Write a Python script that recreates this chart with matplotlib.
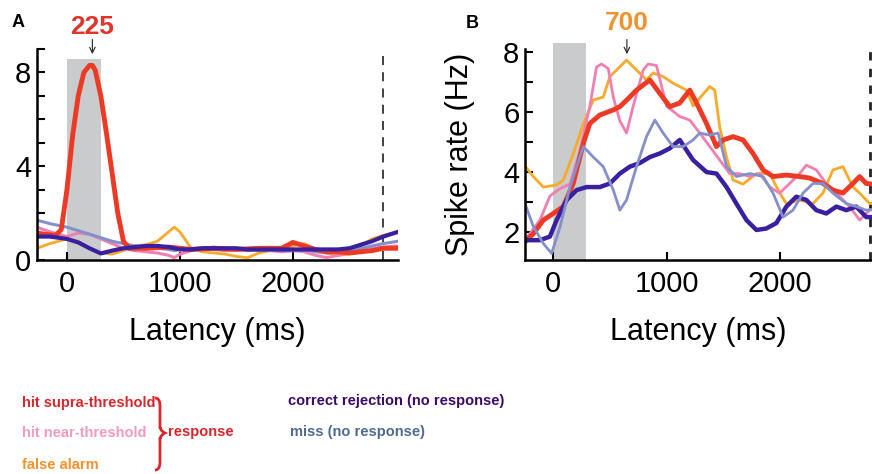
import matplotlib.pyplot as plt
from matplotlib.path import Path
from matplotlib.patches import PathPatch
import numpy as np

plt.rcParams['font.family'] = ['Liberation Sans', 'DejaVu Sans']

# ---- panel A: trial-averaged spike rate, supra-threshold peak ----
a_t_hit = [-265, -200, -100, -50, 0, 50, 100, 150, 200, 225, 250, 300, 350, 400, 450, 500, 550,
           700, 900, 1100, 1300, 1500, 1700, 1900, 2000, 2100, 2200, 2300, 2400, 2500, 2600, 2700, 2800, 2930]
a_hit = [1.15, 1.1, 1.05, 1.3, 3.0, 5.3, 7.0, 8.0, 8.3, 8.3, 8.1, 7.0, 5.4, 3.7, 2.0, 0.8, 0.5,
         0.5, 0.55, 0.45, 0.5, 0.45, 0.5, 0.5, 0.75, 0.6, 0.45, 0.35, 0.35, 0.3, 0.35, 0.4, 0.5, 0.5]

a_t = [-265, -150, 0, 100, 200, 300, 400, 500, 600, 700, 800, 900, 950, 1000, 1100, 1200, 1300, 1400,
       1500, 1600, 1700, 1800, 1900, 2000, 2100, 2200, 2300, 2400, 2500, 2600, 2700, 2800, 2930]
a_fa = [0.5, 0.7, 0.9, 0.8, 0.5, 0.3, 0.25, 0.4, 0.6, 0.65, 0.8, 1.2, 1.4, 1.2, 0.5, 0.35, 0.3, 0.25,
        0.15, 0.1, 0.3, 0.4, 0.45, 0.6, 0.7, 0.45, 0.3, 0.2, 0.25, 0.6, 0.9, 1.05, 1.2]
a_near = [1.4, 1.2, 1.0, 1.15, 1.1, 0.9, 0.7, 0.5, 0.4, 0.35, 0.3, 0.2, 0.1, 0.25, 0.4, 0.5, 0.45, 0.4,
          0.45, 0.4, 0.45, 0.4, 0.35, 0.4, 0.35, 0.2, 0.1, 0.2, 0.3, 0.4, 0.5, 0.55, 0.6]
a_miss = [1.7, 1.55, 1.4, 1.25, 1.1, 0.95, 0.8, 0.7, 0.6, 0.55, 0.5, 0.45, 0.4, 0.45, 0.5, 0.5, 0.55, 0.5,
          0.5, 0.45, 0.4, 0.45, 0.4, 0.4, 0.45, 0.35, 0.3, 0.35, 0.4, 0.5, 0.6, 0.7, 0.8]
a_cr = [1.0, 1.0, 0.9, 0.75, 0.5, 0.28, 0.4, 0.5, 0.55, 0.6, 0.6, 0.55, 0.5, 0.45, 0.45, 0.5, 0.5, 0.5,
        0.5, 0.45, 0.45, 0.45, 0.45, 0.45, 0.45, 0.45, 0.45, 0.45, 0.5, 0.65, 0.8, 1.0, 1.2]

# ---- panel B: false-alarm peak ----
b_t_hit = [-250, -176, -88, 0, 88, 176, 265, 323, 411, 530, 588, 676, 735, 853, 941, 1029, 1117, 1206,
           1265, 1353, 1441, 1500, 1588, 1676, 1764, 1853, 1941, 2059, 2176, 2264, 2382, 2470, 2558, 2647,
           2706, 2764, 2815]
b_hit = [1.68, 1.95, 2.4, 2.62, 2.85, 3.62, 4.95, 5.62, 5.9, 6.07, 6.18, 6.5, 6.73, 7.07, 6.62, 6.18, 6.3,
         6.73, 6.3, 5.62, 4.85, 5.07, 5.18, 5.07, 4.62, 4.07, 3.85, 3.9, 3.85, 3.8, 3.62, 3.4, 3.3, 3.62,
         3.85, 3.62, 3.6]

b_t_fa = [-250, -176, -88, 29, 88, 176, 265, 353, 441, 500, 559, 647, 735, 823, 882, 970, 1058, 1176,
          1235, 1324, 1382, 1426, 1470, 1530, 1588, 1676, 1794, 1912, 2000, 2059, 2176, 2294, 2382, 2470,
          2558, 2647, 2706, 2794, 2815]
b_fa = [4.2, 3.85, 3.5, 3.57, 3.73, 4.6, 5.6, 6.4, 6.5, 7.18, 7.4, 7.73, 7.4, 7.07, 7.3, 7.18, 6.96, 6.73,
        6.2, 6.6, 6.85, 6.73, 5.5, 4.5, 3.73, 3.6, 3.95, 3.95, 3.3, 2.95, 3.07, 2.95, 3.3, 4.07,
        4.18, 3.5, 3.3, 2.95, 2.95]

b_t_near = [-250, -118, -30, 60, 147, 235, 323, 382, 426, 485, 530, 588, 647, 706, 794, 838, 911, 1000,
            1117, 1206, 1294, 1382, 1470, 1558, 1647, 1735, 1823, 1912, 2000, 2088, 2176, 2235, 2323,
            2411, 2500, 2617, 2706, 2794, 2815]
b_near = [1.73, 2.4, 3.2, 3.45, 3.6, 4.7, 6.2, 7.5, 7.6, 7.45, 6.5, 5.7, 5.3, 6.2, 7.4, 7.6, 7.55, 6.2,
          5.85, 5.73, 5.3, 4.85, 4.4, 3.95, 3.95, 3.85, 3.95, 3.5, 3.3, 3.62, 3.95, 4.23, 4.07,
          3.62, 3.3, 2.85, 2.4, 2.73, 2.75]

b_t_miss = [-250, -176, -88, -15, 60, 147, 265, 353, 441, 530, 588, 647, 735, 823, 897, 970, 1058, 1147,
            1235, 1294, 1382, 1456, 1530, 1617, 1735, 1853, 1941, 2029, 2117, 2206, 2294, 2382, 2470,
            2588, 2676, 2764, 2815]
b_miss = [2.95, 2.18, 1.62, 1.29, 2.18, 3.5, 4.85, 4.5, 4.18, 3.4, 2.73, 3.07, 4.18, 5.18, 5.73, 5.3, 4.85,
          4.85, 5.07, 5.3, 5.23, 5.3, 4.18, 3.85, 3.95, 3.85, 3.3, 2.5, 2.73, 3.3, 3.62, 3.62, 3.3,
          2.95, 2.85, 2.73, 2.75]

b_t_cr = [-250, -118, -30, 29, 118, 206, 294, 411, 500, 588, 676, 764, 853, 941, 1029, 1117, 1176, 1235,
          1294, 1353, 1441, 1530, 1617, 1706, 1794, 1882, 1970, 2059, 2147, 2235, 2323, 2411, 2500,
          2588, 2676, 2764, 2815]
b_cr = [1.73, 1.73, 1.85, 2.4, 3.07, 3.4, 3.5, 3.5, 3.62, 3.95, 4.18, 4.3, 4.5, 4.62, 4.79, 5.07, 4.73, 4.4,
        4.2, 4.0, 3.95, 3.5, 2.95, 2.4, 2.07, 2.12, 2.3, 2.85, 3.18, 3.07, 2.73, 2.62, 2.85,
        2.73, 2.85, 2.5, 2.5]

peak_a, peak_a_label = 225, '225'
peak_b, peak_b_label = 650, '700'
stim_end = 300
trial_end = 2800

c_hit = '#ec3a25'
c_near = '#f27fb2'
c_fa = '#f8aa2a'
c_cr = '#3a20a0'
c_miss = '#8490cc'
shade = '#c9cbcc'

W, H = 872, 474
fig = plt.figure(figsize=(W / 100, H / 100), dpi=100)


def px_axes(l, t, r, b):
    return fig.add_axes([l / W, 1 - b / H, (r - l) / W, (b - t) / H])


def style(ax):
    for s in ['top', 'right']:
        ax.spines[s].set_visible(False)
    for s in ['left', 'bottom']:
        ax.spines[s].set_linewidth(1.8)
    ax.tick_params(which='both', direction='in', width=1.5, labelsize=21, pad=4)
    ax.tick_params(which='major', length=6)
    ax.tick_params(which='minor', length=6)
    ax.tick_params(axis='x', pad=7)
    ax.set_xticks([0, 1000, 2000])
    ax.set_xlabel('Latency (ms)', fontsize=22, labelpad=14)


# panel A
axA = px_axes(37, 49, 398, 260)
axA.axvspan(0, stim_end, ymax=0.953, color=shade, lw=0, zorder=0)
axA.axvline(trial_end, color='#333333', ls=(0, (5, 4)), lw=1.3)
axA.plot(a_t, a_fa, color=c_fa, lw=2)
axA.plot(a_t, a_near, color=c_near, lw=2.2)
axA.plot(a_t, a_miss, color=c_miss, lw=2.2)
axA.plot(a_t_hit, a_hit, color=c_hit, lw=3.5)
axA.plot(a_t, a_cr, color=c_cr, lw=3)
axA.set_xlim(-265, 2930)
axA.set_ylim(0, 9)
axA.set_yticks([0, 4, 8])
axA.set_yticks(range(0, 10), minor=True)
style(axA)
tr = axA.get_xaxis_transform()
axA.text(peak_a, 1.104, peak_a_label, transform=tr, ha='center', va='center',
         color='#e0352b', fontsize=19, fontweight='bold')
axA.annotate('', xy=(peak_a, 0.976), xytext=(peak_a, 1.045), xycoords=tr, textcoords=tr,
             arrowprops=dict(arrowstyle='->', lw=0.8, color='#222222', shrinkA=0, shrinkB=0))

# panel B
axB = px_axes(525, 49, 872, 260)
axB.axvspan(0, 290, ymax=1.03, color=shade, lw=0, zorder=0, clip_on=False)
axB.axvline(trial_end, color='#222222', ls=(0, (3, 3)), lw=2)
axB.plot(b_t_fa, b_fa, color=c_fa, lw=2)
axB.plot(b_t_near, b_near, color=c_near, lw=2)
axB.plot(b_t_hit, b_hit, color=c_hit, lw=3.5)
axB.plot(b_t_cr, b_cr, color=c_cr, lw=3.2)
axB.plot(b_t_miss, b_miss, color=c_miss, lw=2)
axB.set_xlim(-250, 2815)
axB.set_ylim(1.07, 8.1)
axB.set_yticks([2, 4, 6, 8])
axB.set_yticks(range(2, 9), minor=True)
style(axB)
axB.set_ylabel('Spike rate (Hz)', fontsize=22, labelpad=20)
tr = axB.get_xaxis_transform()
axB.text(peak_b, 1.123, peak_b_label, transform=tr, ha='center', va='center',
         color='#f0922e', fontsize=19, fontweight='bold')
axB.annotate('', xy=(peak_b, 0.976), xytext=(peak_b, 1.045), xycoords=tr, textcoords=tr,
             arrowprops=dict(arrowstyle='->', lw=0.8, color='#222222', shrinkA=0, shrinkB=0))

# overlay in pixel coordinates for panel letters and the legend
ov = fig.add_axes([0, 0, 1, 1], zorder=-1)
ov.set_xlim(0, W)
ov.set_ylim(H, 0)
ov.axis('off')
ov.text(18, 22, 'A', fontsize=13, fontweight='bold', ha='center', va='center')
ov.text(472, 23, 'B', fontsize=13, fontweight='bold', ha='center', va='center')

leg = dict(fontsize=10.5, fontweight='bold', va='center', ha='left')
ov.text(22, 403, 'hit supra-threshold', color='#d9262b', **leg)
ov.text(22, 433, 'hit near-threshold', color='#f29bc1', **leg)
ov.text(22, 465, 'false alarm', color='#f0922e', **leg)
ov.text(168, 432, 'response', color='#d9262b', **leg)
ov.text(288, 401, 'correct rejection (no response)', color='#3c0a6b', **leg)
ov.text(290, 432, 'miss (no response)', color='#4d6b95', **leg)

verts = [(155, 398), (159, 398), (160, 402), (160, 406),
         (160, 428), (160, 426), (160, 431), (165, 433),
         (160, 435), (160, 440), (160, 438),
         (160, 462), (160, 466), (159, 470), (155, 470)]
codes = [Path.MOVETO, Path.CURVE4, Path.CURVE4, Path.CURVE4,
         Path.LINETO, Path.CURVE4, Path.CURVE4, Path.CURVE4,
         Path.CURVE4, Path.CURVE4, Path.CURVE4,
         Path.LINETO, Path.CURVE4, Path.CURVE4, Path.CURVE4]
ov.add_patch(PathPatch(Path(verts, codes), fill=False, edgecolor='#d9262b', lw=2))

fig.savefig('out.png', dpi=100)
